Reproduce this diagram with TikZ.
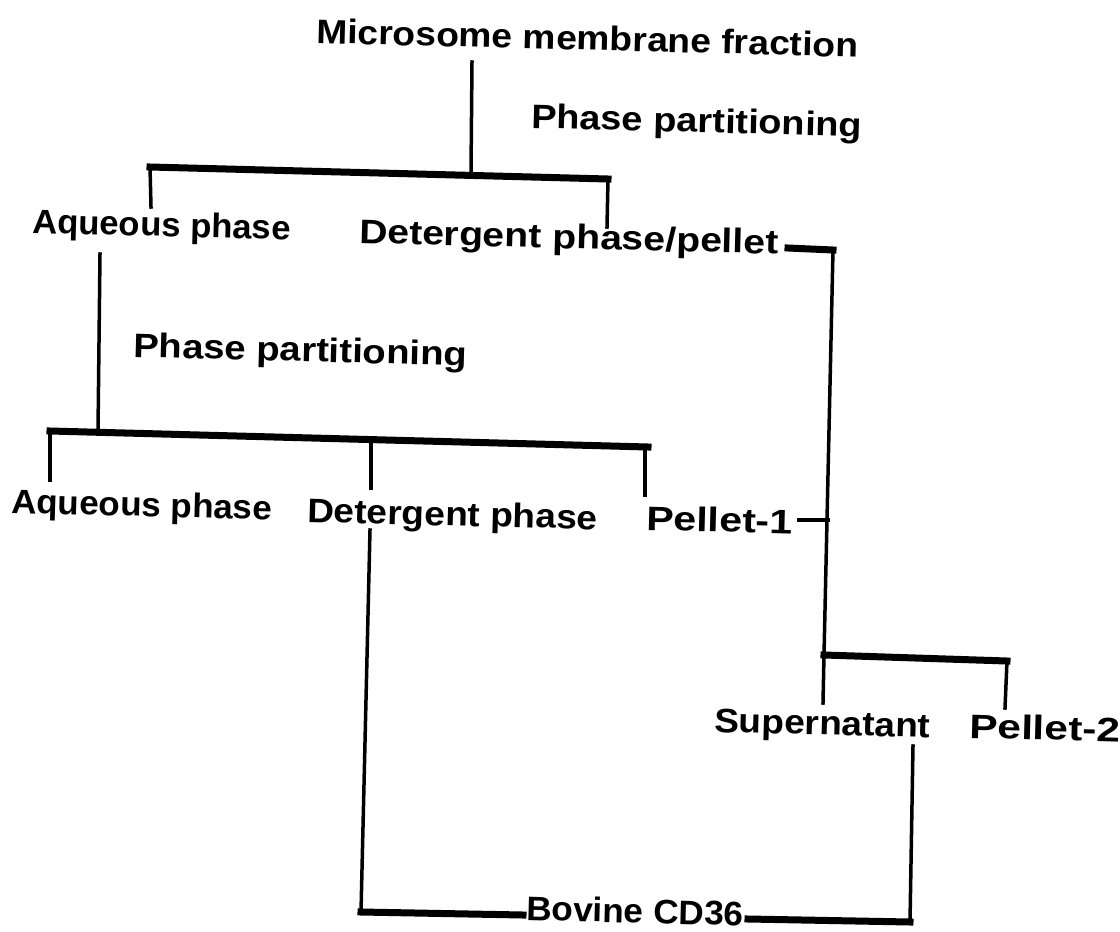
\documentclass[tikz,border=0pt]{standalone}
\usepackage{fontspec}
\setmainfont{Liberation Sans}
\tikzset{
  lbl/.style={anchor=base west, inner sep=0pt, rotate=-1.5,
              font=\fontsize{34}{40}\selectfont\bfseries},
  vline/.style={line width=3.5pt, line cap=rect},
  hbar/.style={line width=7pt, line cap=rect},
  dashln/.style={line width=4pt},
}
\newcommand\sx[2]{\scalebox{#1}[1]{#2}}
\begin{document}
\begin{tikzpicture}[x=1pt,y=-1pt]
\useasboundingbox[fill=white] (0,0) rectangle (1120,932);
% labels
\node[lbl] (micro) at (316,43) {\sx{1.095}{Microsome membrane fraction}};
\node[lbl] (pp1) at (531,128) {\sx{1.116}{Phase partitioning}};
\node[lbl] (aq1) at (32,233) {\sx{1.02}{Aqueous phase}};
\node[lbl] (det1) at (359,243) {\sx{1.15}{Detergent phase/pellet}};
\node[lbl] (pp2) at (133,357) {\sx{1.126}{Phase partitioning}};
\node[lbl] (aq2) at (11,513) {\sx{1.03}{Aqueous phase}};
\node[lbl] (det2) at (307,522) {\sx{1.09}{Detergent phase}};
\node[lbl] (pel1) at (646,530) {\sx{1.21}{Pellet-1}};
\node[lbl] (sup) at (714,732) {\sx{1.09}{Supernatant}};
\node[lbl] (pel2) at (969,738) {\sx{1.25}{Pellet-2}};
\node[lbl] (cd36) at (526,920) {\sx{1.035}{Bovine CD36}};
% junction coordinates
\coordinate (m1) at (472,62);
\coordinate (m2) at (471,172);
\coordinate (b1L) at (150,167);
\coordinate (b1R) at (608,179);
\coordinate (aq1t) at (151,207);
\coordinate (det1t) at (607,227);
\coordinate (d1e) at (788,248);
\coordinate (d1c) at (833,250);
\coordinate (rv) at (824,655);
\coordinate (p1e) at (797,520);
\coordinate (p1c) at (830,520);
\coordinate (b3R) at (1007,661);
\coordinate (supt) at (823,703);
\coordinate (pel2t) at (1005,708);
\coordinate (aq1b) at (100,254);
\coordinate (b2c) at (98,431);
\coordinate (b2L) at (50,431);
\coordinate (b2R) at (648,447);
\coordinate (aq2t) at (50,480);
\coordinate (b2m) at (371,442);
\coordinate (det2t) at (371,488);
\coordinate (b2r) at (645,447);
\coordinate (pel1t) at (645,495);
\coordinate (det2b) at (370,530);
\coordinate (bl) at (361,912);
\coordinate (cdl) at (523,915);
\coordinate (supb) at (913,746);
\coordinate (br) at (910,922);
\coordinate (cdr) at (748,919);
% connectors
\draw[vline] (m1) -- (m2);
\draw[hbar] (b1L) -- (b1R);
\draw[vline] (b1L) -- (aq1t);
\draw[vline] (b1R) -- (det1t);
\draw[hbar] (d1e) -- (d1c);
\draw[vline] (d1c) -- (rv);
\draw[dashln] (p1e) -- (p1c);
\draw[hbar] (rv) -- (b3R);
\draw[vline] (rv) -- (supt);
\draw[vline] (b3R) -- (pel2t);
\draw[vline] (aq1b) -- (b2c);
\draw[hbar] (b2L) -- (b2R);
\draw[vline] (b2L) -- (aq2t);
\draw[vline] (b2m) -- (det2t);
\draw[vline] (b2r) -- (pel1t);
\draw[vline] (det2b) -- (bl);
\draw[hbar] (bl) -- (cdl);
\draw[vline] (supb) -- (br);
\draw[hbar] (cdr) -- (br);
\end{tikzpicture}
\end{document}
